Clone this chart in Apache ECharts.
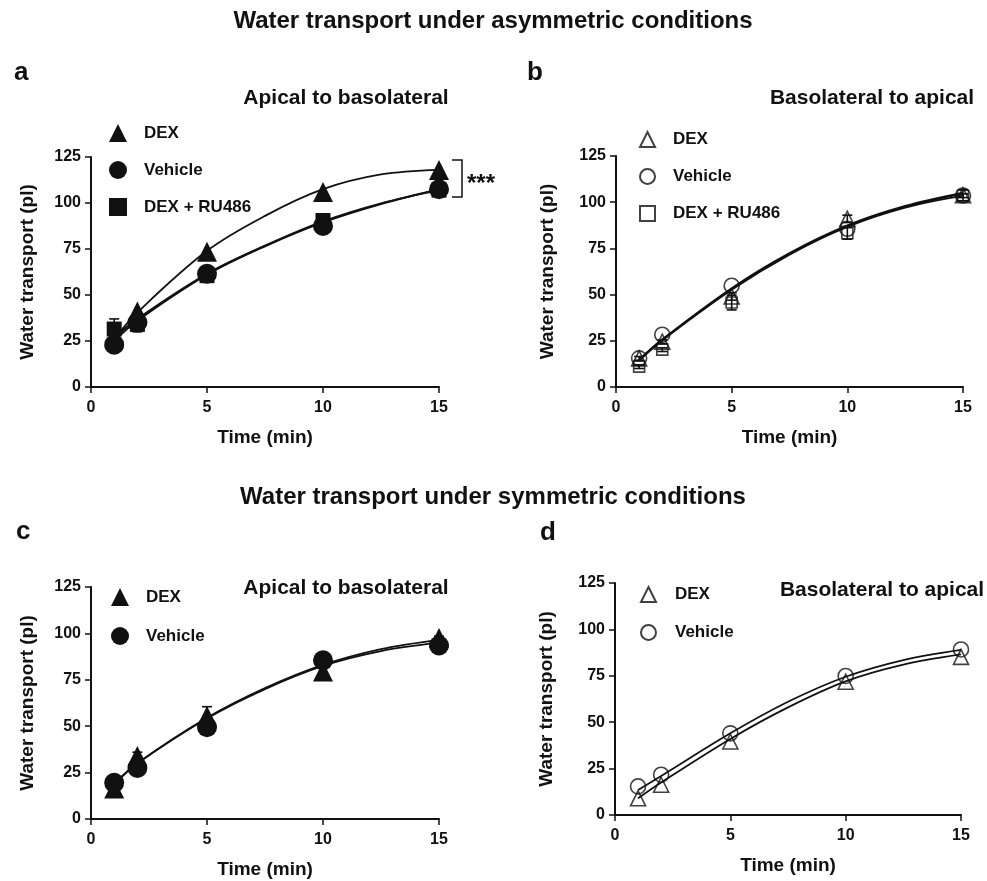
<!DOCTYPE html>
<html>
<head>
<meta charset="utf-8">
<script src="https://cdn.jsdelivr.net/npm/echarts@6/dist/echarts.min.js"></script>
<style>html,body{margin:0;padding:0;background:#fff;}#c{width:987px;height:881px;}</style>
</head>
<body>
<div id="c"></div>
<script>
// ---------- data ----------
const timePoints = [1, 2, 5, 10, 15];
const fitTimes = [1, 2, 5, 7.5, 10, 12.5, 15];
const xTicks = [0, 5, 10, 15];
const yTicks = [0, 25, 50, 75, 100, 125];

// Panel a: asymmetric, apical to basolateral
const aDex = [27, 41, 73.5, 106, 118];
const aVehicle = [23, 35, 61.5, 87.5, 107.5];
const aDexRu = [31.5, 34, 60.5, 90.5, 107];
const aDexFit = [26, 40.5, 74, 93, 107.5, 115.5, 118];
const aVehicleFit = [25, 36, 61, 76.5, 89.5, 99.5, 107.5];
const aDexRuFit = [26.5, 37, 61.5, 76.8, 90, 99.8, 107];
const aDexRuErr = [5.5, 4, 3.5, 2, 1.5];
const aVehicleErr = [2, 2, 2, 2, 1.5];

// Panel b: asymmetric, basolateral to apical
const bDex = [15.5, 24.5, 49, 91, 103.8];
const bVehicle = [15.5, 28.3, 54.8, 85.6, 103.6];
const bDexRu = [11, 20.2, 45.7, 83.2, 103.5];
const bDexFit = [14.5, 25.5, 53, 72, 87, 97.5, 104.5];
const bVehicleFit = [14.8, 25.8, 53.5, 72.5, 87.5, 98, 105.2];
const bDexRuFit = [14.3, 25.2, 52.6, 71.6, 86.6, 97, 103.5];
const bDexRuErr = [1, 1, 4, 3.2, 1];
const bDexErr = [1, 1, 2, 2, 3];

// Panel c: symmetric, apical to basolateral
const cDex = [16.5, 34, 55.5, 79.5, 97.5];
const cVehicle = [19.5, 27.5, 49.5, 85.5, 93.5];
const cDexFit = [18.5, 30, 54.5, 70.5, 83, 91.5, 96.5];
const cVehicleFit = [19, 30, 54.2, 70, 82.5, 90.5, 95];
const cDexErr = [1, 2, 5, 2, 1];

// Panel d: symmetric, basolateral to apical
const dDex = [9, 16.3, 39.6, 71.8, 85.2];
const dVehicle = [15.4, 21.7, 44, 74.9, 89.2];
const dDexFit = [9, 17.5, 41, 58, 72, 81, 86.5];
const dVehicleFit = [13.5, 21, 44, 61, 74.5, 83.5, 89];

// ---------- helpers ----------
const INK = '#111';
const FONT = '"Liberation Sans", Arial, sans-serif';
const pairs = (xs, ys) => xs.map((x, i) => [x, ys[i]]);
const errPairs = (xs, ys, es) => xs.map((x, i) => [x, ys[i] - es[i], ys[i] + es[i]]);

const grids = [
  {left: 91, top: 157, width: 348, height: 230},
  {left: 616, top: 156, width: 347, height: 231},
  {left: 91, top: 587, width: 348, height: 232},
  {left: 615, top: 583, width: 346, height: 232}
];
const yNameGaps = [54, 59, 54, 59];

function xAxisFor(i) {
  return {
    gridIndex: i, type: 'value', min: xTicks[0], max: xTicks[xTicks.length - 1], interval: 5,
    axisLine: {show: true, onZero: false, lineStyle: {color: INK, width: 2}},
    axisTick: {show: true, length: 6, lineStyle: {color: INK, width: 1.5}},
    splitLine: {show: false},
    axisLabel: {fontSize: 16, fontWeight: 'bold', color: INK, margin: 13, fontFamily: FONT},
    name: 'Time (min)', nameLocation: 'middle', nameGap: 41,
    nameTextStyle: {fontSize: 19, fontWeight: 'bold', color: INK, fontFamily: FONT}
  };
}
function yAxisFor(i) {
  return {
    gridIndex: i, type: 'value', min: yTicks[0], max: yTicks[yTicks.length - 1], interval: 25,
    axisLine: {show: true, onZero: false, lineStyle: {color: INK, width: 2}},
    axisTick: {show: true, length: 6, lineStyle: {color: INK, width: 1.5}},
    splitLine: {show: false},
    axisLabel: {fontSize: 16, fontWeight: 'bold', color: INK, margin: 10, fontFamily: FONT},
    name: 'Water transport (pl)', nameLocation: 'middle', nameGap: yNameGaps[i], nameRotate: 90,
    nameTextStyle: {fontSize: 19, fontWeight: 'bold', color: INK, fontFamily: FONT}
  };
}

function fitLine(i, name, ys, w) {
  return {
    type: 'line', name: name, xAxisIndex: i, yAxisIndex: i,
    data: pairs(fitTimes, ys), smooth: 0.35, showSymbol: false, symbol: 'none',
    lineStyle: {color: INK, width: w || 1.8}, z: 2, silent: true
  };
}
function points(i, name, ys, symbol, size, open) {
  return {
    type: 'scatter', name: name, xAxisIndex: i, yAxisIndex: i,
    data: pairs(timePoints, ys), symbol: symbol, symbolSize: size,
    itemStyle: open ? {color: 'rgba(255,255,255,0)', borderColor: INK, borderWidth: 1.6}
                    : {color: INK, borderColor: INK, borderWidth: 0, opacity: 1},
    z: 4
  };
}
function errBars(i, ys, es) {
  return {
    type: 'custom', xAxisIndex: i, yAxisIndex: i, z: 3, silent: true,
    data: errPairs(timePoints, ys, es),
    renderItem: function (params, api) {
      const lo = api.coord([api.value(0), api.value(1)]);
      const hi = api.coord([api.value(0), api.value(2)]);
      const w = 5;
      const st = {stroke: INK, lineWidth: 1.6};
      return {
        type: 'group', children: [
          {type: 'line', shape: {x1: lo[0], y1: lo[1], x2: hi[0], y2: hi[1]}, style: st},
          {type: 'line', shape: {x1: lo[0] - w, y1: lo[1], x2: lo[0] + w, y2: lo[1]}, style: st},
          {type: 'line', shape: {x1: hi[0] - w, y1: hi[1], x2: hi[0] + w, y2: hi[1]}, style: st}
        ]
      };
    }
  };
}

function legendFor(names, left, top, size, gap, pad) {
  return {
    orient: 'vertical', left: left, top: top, data: names,
    itemWidth: size, itemHeight: size, itemGap: gap, selectedMode: false,
    formatter: n => n.split('|')[1],
    textStyle: {fontSize: 17, fontWeight: 'bold', color: INK, fontFamily: FONT, padding: [0, 0, 0, pad]}
  };
}

const series = [
  // a
  fitLine(0, 'a|DEX fit', aDexFit), fitLine(0, 'a|Vehicle fit', aVehicleFit, 2), fitLine(0, 'a|RU fit', aDexRuFit, 2),
  errBars(0, aDexRu, aDexRuErr), errBars(0, aVehicle, aVehicleErr),
  points(0, 'a|DEX', aDex, 'triangle', 20, false),
  points(0, 'a|DEX + RU486', aDexRu, 'rect', 15, false),
  points(0, 'a|Vehicle', aVehicle, 'circle', 20, false),
  // b
  fitLine(1, 'b|DEX fit', bDexFit), fitLine(1, 'b|Vehicle fit', bVehicleFit), fitLine(1, 'b|RU fit', bDexRuFit),
  errBars(1, bDexRu, bDexRuErr), errBars(1, bDex, bDexErr),
  points(1, 'b|DEX', bDex, 'triangle', 15, true),
  points(1, 'b|Vehicle', bVehicle, 'circle', 15, true),
  points(1, 'b|DEX + RU486', bDexRu, 'rect', 11, true),
  // c
  fitLine(2, 'c|DEX fit', cDexFit), fitLine(2, 'c|Vehicle fit', cVehicleFit),
  errBars(2, cDex, cDexErr),
  points(2, 'c|DEX', cDex, 'triangle', 20, false),
  points(2, 'c|Vehicle', cVehicle, 'circle', 20, false),
  // d
  fitLine(3, 'd|DEX fit', dDexFit), fitLine(3, 'd|Vehicle fit', dVehicleFit),
  points(3, 'd|DEX', dDex, 'triangle', 15, true),
  points(3, 'd|Vehicle', dVehicle, 'circle', 15, true)
];

function txt(x, y, text, size, align) {
  return {
    type: 'text', x: x, y: y, z: 10,
    style: {text: text, font: 'bold ' + size + 'px ' + FONT, fill: INK,
            textAlign: align || 'center', textVerticalAlign: 'middle', verticalAlign: 'middle'}
  };
}

const option = {
  backgroundColor: '#fff',
  animation: false,
  grid: grids,
  xAxis: [0, 1, 2, 3].map(xAxisFor),
  yAxis: [0, 1, 2, 3].map(yAxisFor),
  legend: [
    legendFor(['a|DEX', 'a|Vehicle', 'a|DEX + RU486'], 104, 119, 18, 19, 12),
    legendFor(['b|DEX', 'b|Vehicle', 'b|DEX + RU486'], 634, 126, 15, 20, 13),
    legendFor(['c|DEX', 'c|Vehicle'], 106, 583, 18, 21, 12),
    legendFor(['d|DEX', 'd|Vehicle'], 635, 581, 15, 21, 14)
  ],
  series: series,
  graphic: [
    txt(493, 21, 'Water transport under asymmetric conditions', 24),
    txt(493, 497, 'Water transport under symmetric conditions', 24),
    txt(14, 73, 'a', 26, 'left'),
    txt(527, 73, 'b', 26, 'left'),
    txt(16, 532, 'c', 26, 'left'),
    txt(540, 533, 'd', 26, 'left'),
    txt(346, 98, 'Apical to basolateral', 21),
    txt(872, 98, 'Basolateral to apical', 21),
    txt(346, 588, 'Apical to basolateral', 21),
    txt(882, 590, 'Basolateral to apical', 21),
    {type: 'polyline', z: 10, shape: {points: [[452, 160], [462, 160], [462, 197], [452, 197]]},
     style: {stroke: INK, lineWidth: 1.5, fill: null}},
    txt(467, 184, '***', 24, 'left')
  ]
};

const chart = echarts.init(document.getElementById('c'), null, {renderer: 'canvas'});
chart.setOption(option);
</script>
</body>
</html>
